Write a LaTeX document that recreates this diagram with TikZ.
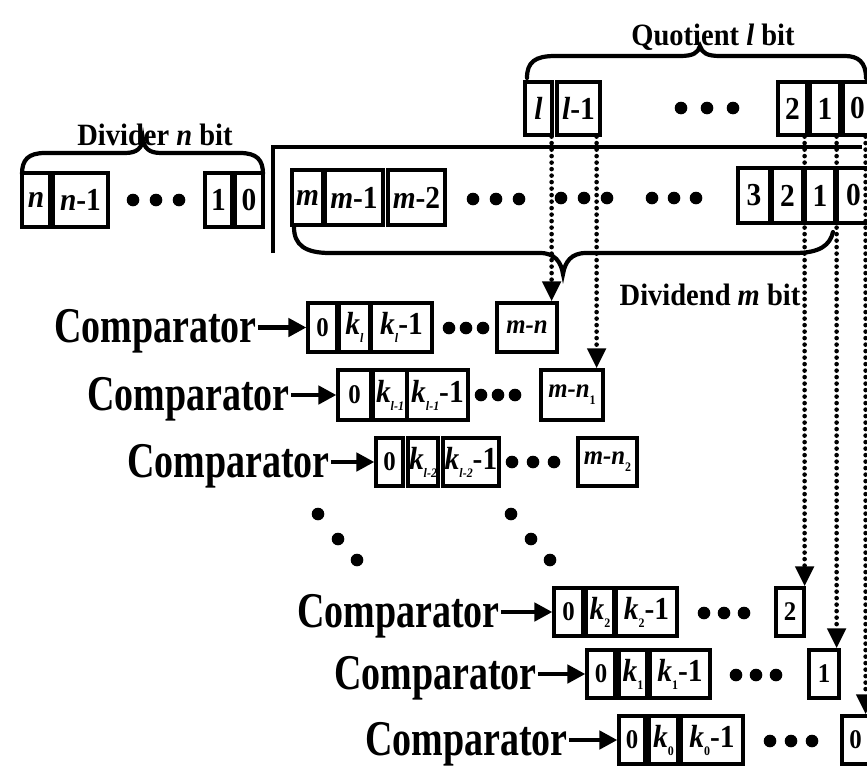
\documentclass[tikz,border=0pt]{standalone}
\usepackage{fontspec}
\setmainfont{Liberation Serif}
\newfontfamily\cmpfont[FakeStretch=0.76]{Liberation Serif}
\newfontfamily\lblfont[FakeStretch=0.92]{Liberation Serif}
\usetikzlibrary{arrows.meta}
% small lowered index inside a bit cell
\newcommand\sbs[1]{\raisebox{-0.25em}{\fontsize{13}{13}\selectfont#1}}
% \bitbox[style]{name}{x1}{x2}{y1}{y2}{text}
\newcommand\bitbox[7][]{\node[bitcell,#1,minimum width={#4pt-#3pt},minimum height={#6pt-#5pt}] (#2) at ({(#3+#4)/2},{(#5+#6)/2}) {#7};}
% three filled dots: \dotrow{x}{y}{gap}
\newcommand\dotrow[3]{\foreach \i in {0,1,2}{\fill ({#1+\i*#3},#2) circle[radius=6.3];}}
\begin{document}
\begin{tikzpicture}[x=1pt,y=-1pt,
  bitcell/.style={draw, line width=3.2pt, inner sep=0pt,
    font=\lblfont\bfseries\fontsize{32}{34}\selectfont},
  smallcell/.style={font=\lblfont\bfseries\fontsize{27}{29}\selectfont},
  cmp/.style={font=\cmpfont\bfseries\fontsize{50}{54}\selectfont, inner sep=0pt, anchor=base east},
  lbl/.style={font=\lblfont\bfseries\fontsize{31}{33}\selectfont, inner sep=0pt, anchor=base},
  carr/.style={line width=4.8pt, -{Triangle[length=18pt,width=18pt]}},
  dotarr/.style={line width=4.6pt, line cap=round, dash pattern=on 0pt off 6.5pt,
    -{Triangle[length=20pt,width=18pt]}},
  brace/.style={line width=4.2pt, line cap=round}]
\useasboundingbox (0,0) rectangle (867,769);

% ---------- quotient register ----------
\node[lbl] (qlab) at (713,45) {Quotient \textit{l} bit};
\draw[brace] (527,78) .. controls (527,62) and (535,56) .. (555,56) -- (680,56)
  .. controls (693,56) and (698,53) .. (700,46) .. controls (702,53) and (707,56) .. (720,56)
  -- (845,56) .. controls (858,56) and (866,62) .. (866,78);
\bitbox{ql}{525}{552}{82}{135}{\itshape l}
\bitbox{qla}{557}{600}{82}{135}{\textit{l}-1}
\dotrow{681}{108}{26}
\bitbox{qb}{778}{807}{82}{135}{2}
\bitbox{qa}{810}{840}{82}{135}{1}
\bitbox{qz}{843}{872}{82}{135}{0}

% ---------- divider register ----------
\node[lbl] (dlab) at (155,145) {Divider \textit{n} bit};
\draw[brace] (22,174) .. controls (22,160) and (28,153) .. (45,153) -- (125,153)
  .. controls (137,153) and (142,148) .. (143,139) .. controls (144,148) and (149,153) .. (161,153)
  -- (240,153) .. controls (257,153) and (263,160) .. (263,174);
\bitbox{dn}{22}{50}{173}{227}{\itshape n}
\bitbox{dna}{53}{108}{173}{227}{\textit{n}-1}
\dotrow{133}{200}{23}
\bitbox{da}{205}{232}{173}{227}{1}
\bitbox{dz}{235}{263}{173}{227}{0}

% ---------- division bracket ----------
\draw[line width=4.8pt] (273,253) -- (273,147) -- (862,147);

% ---------- dividend register ----------
\bitbox{vm}{292}{323}{170}{225}{\itshape m}
\bitbox{vma}{325}{383}{170}{225}{\textit{m}-1}
\bitbox{vmb}{388}{445}{170}{225}{\textit{m}-2}
\dotrow{473}{199}{23}
\dotrow{561}{198}{23}
\dotrow{652}{198}{22}
\bitbox{vc}{738}{770}{168}{223}{3}
\bitbox{vb}{772}{803}{168}{223}{2}
\bitbox{va}{805}{835}{168}{223}{1}
\bitbox{vz}{837}{870}{168}{223}{0}
\draw[brace] (294,227) .. controls (294,245) and (305,253) .. (330,253) -- (540,253)
  .. controls (555,253) and (561,262) .. (563,274) .. controls (565,262) and (571,253) .. (586,253)
  -- (795,253) .. controls (820,253) and (830,245) .. (833,232);
\node[lbl] (vlab) at (710,305) {Dividend \textit{m} bit};

% ---------- comparator rows ----------
% row 1
\node[cmp] (c1) at (257,342) {Comparator};
\bitbox[smallcell]{r1z}{308}{337}{303}{352}{0}
\bitbox{r1k}{339}{370}{303}{352}{\textit{k}\sbs{\itshape l}}
\bitbox{r1m}{371}{432}{303}{352}{\textit{k}\sbs{\itshape l}-1}
\dotrow{449}{328}{17}
\bitbox[smallcell]{r1e}{497}{557}{303}{352}{\itshape m-n}
% row 2
\node[cmp] (c2) at (290,410) {Comparator};
\bitbox[smallcell]{r2z}{338}{371}{370}{420}{0}
\bitbox{r2k}{373}{407}{370}{420}{\textit{k}\sbs{\itshape l-1}}
\bitbox{r2m}{407}{468}{370}{420}{\textit{k}\sbs{\itshape l-1}-1}
\dotrow{481}{395}{17}
\bitbox[smallcell]{r2e}{541}{603}{370}{420}{\textit{m-n}\sbs{1}}
% row 3
\node[cmp] (c3) at (330,477) {Comparator};
\bitbox[smallcell]{r3z}{376}{403}{438}{486}{0}
\bitbox{r3k}{408}{438}{438}{486}{\textit{k}\sbs{\itshape l-2}}
\bitbox{r3m}{443}{499}{438}{486}{\textit{k}\sbs{\itshape l-2}-1}
\dotrow{512}{462}{21}
\bitbox[smallcell]{r3e}{578}{637}{438}{486}{\textit{m-n}\sbs{2}}
% vertical ellipsis between the rows
\foreach \p in {(318,514),(338,539),(357,560),(511,514),(531,539),(550,560)}
  \fill \p circle[radius=6.3];
% row 4
\node[cmp] (c4) at (500,627) {Comparator};
\bitbox[smallcell]{r4z}{554}{583}{588}{636}{0}
\bitbox{r4k}{586}{614}{588}{636}{\textit{k}\sbs{2}}
\bitbox{r4m}{616}{677}{588}{636}{\textit{k}\sbs{2}-1}
\dotrow{704}{613}{20}
\bitbox[smallcell]{r4e}{776}{804}{588}{636}{2}
% row 5
\node[cmp] (c5) at (537,689) {Comparator};
\bitbox[smallcell]{r5z}{587}{615}{650}{698}{0}
\bitbox{r5k}{619}{647}{650}{698}{\textit{k}\sbs{1}}
\bitbox{r5m}{650}{710}{650}{698}{\textit{k}\sbs{1}-1}
\dotrow{736}{675}{20}
\bitbox[smallcell]{r5e}{809}{839}{650}{698}{1}
% row 6
\node[cmp] (c6) at (568,755) {Comparator};
\bitbox[smallcell]{r6z}{619}{645}{716}{764}{0}
\bitbox{r6k}{649}{678}{716}{764}{\textit{k}\sbs{0}}
\bitbox{r6m}{681}{743}{716}{764}{\textit{k}\sbs{0}-1}
\dotrow{770}{741}{21}
\bitbox[smallcell]{r6e}{842}{869}{716}{764}{0}

% comparator outputs into the first cell of each row
\foreach \r in {1,...,6}
  \draw[carr] ([xshift=1pt]c\r.east |- r\r z.west) -- (r\r z.west);

% quotient bits fed down to the rows
\draw[dotarr] ([xshift=-2pt]ql.south east) -- ([xshift=-2pt]ql.south east |- r1e.north);
\draw[dotarr] ([xshift=-5pt]qla.south east) -- ([xshift=-5pt]qla.south east |- r2e.north);
\draw[dotarr] ([xshift=-4pt]qb.south east) -- ([xshift=-4pt]qb.south east |- r4e.north);
\draw[dotarr] ([xshift=-5pt]qa.south east) -- ([xshift=-5pt]qa.south east |- r5e.north);
\draw[dotarr] ([xshift=-8pt]qz.south east) -- ([xshift=-8pt]qz.south east |- r6e.north);
\end{tikzpicture}
\end{document}
